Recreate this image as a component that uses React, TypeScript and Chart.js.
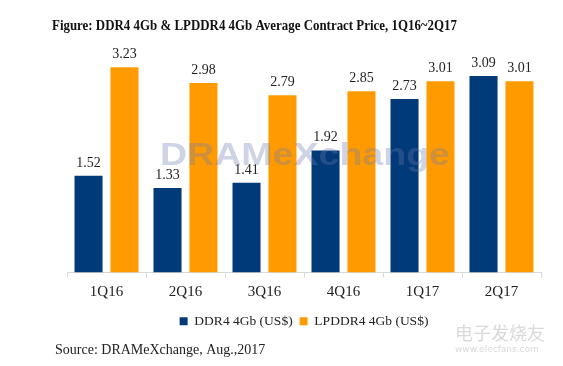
import React, { useEffect, useRef } from "react";
import { Chart, registerables } from "chart.js";

Chart.register(...registerables);

const categories = ["1Q16", "2Q16", "3Q16", "4Q16", "1Q17", "2Q17"];
const ddr4 = [1.52, 1.33, 1.41, 1.92, 2.73, 3.09];
const lpddr4 = [3.23, 2.98, 2.79, 2.85, 3.01, 3.01];
const seriesNames = ["DDR4 4Gb (US$)", "LPDDR4 4Gb (US$)"];
const seriesColors = ["#003a78", "#ff9b00"];
const titleText = "Figure: DDR4 4Gb & LPDDR4 4Gb Average Contract Price, 1Q16~2Q17";
const sourceText = "Source: DRAMeXchange, Aug.,2017";
const watermarkText = "DRAMeXchange";

const SERIF = "'Liberation Serif', 'DejaVu Serif', serif";

const decorPlugin = {
  id: "decor",
  afterDatasetsDraw(chart: any) {
    const ctx = chart.ctx;
    ctx.save();
    // value labels
    ctx.font = `14px ${SERIF}`;
    ctx.fillStyle = "#222";
    ctx.textAlign = "center";
    ctx.textBaseline = "bottom";
    chart.data.datasets.forEach((ds: any, i: number) => {
      const meta = chart.getDatasetMeta(i);
      meta.data.forEach((el: any, j: number) => {
        ctx.fillText(Number(ds.data[j]).toFixed(2), el.x, el.y - 6);
      });
    });
    // watermark
    ctx.font = "bold 32px 'Liberation Sans', Arial, sans-serif";
    const w = ctx.measureText(watermarkText).width;
    const target = 290;
    ctx.translate(160, 165);
    ctx.scale(target / w, 1);
    ctx.textAlign = "left";
    ctx.textBaseline = "alphabetic";
    ctx.fillStyle = "rgba(105,120,175,0.33)";
    ctx.fillText(watermarkText, 0, 0);
    ctx.restore();
  },
  afterDraw(chart: any) {
    const ctx = chart.ctx;
    ctx.save();
    ctx.fillStyle = "#111";
    ctx.textBaseline = "middle";
    ctx.textAlign = "left";
    ctx.font = `bold 14px ${SERIF}`;
    const tw = ctx.measureText(titleText).width;
    ctx.save();
    ctx.translate(52, 26);
    ctx.scale(405 / tw, 1);
    ctx.fillText(titleText, 0, 0);
    ctx.restore();
    ctx.font = `14px ${SERIF}`;
    ctx.fillStyle = "#222";
    ctx.fillText(sourceText, 55, 350);
    // faint site watermark
    ctx.fillStyle = "rgba(170,170,170,0.45)";
    ctx.font = "18px 'Noto Sans CJK SC', sans-serif";
    ctx.fillText("电子发烧友", 455, 333);
    ctx.font = "9px 'DejaVu Sans', sans-serif";
    ctx.fillText("www.elecfans.com", 455, 350);
    ctx.restore();
  },
};

export default function App() {
  const ref = useRef<HTMLCanvasElement | null>(null);
  useEffect(() => {
    document.body.style.margin = "0";
    const canvas = ref.current!;
    const chart = new Chart(canvas, {
      type: "bar",
      data: {
        labels: categories,
        datasets: [
          {
            label: seriesNames[0],
            data: ddr4,
            backgroundColor: seriesColors[0],
            borderWidth: 0,
            categoryPercentage: 0.91,
            barPercentage: 0.78,
          },
          {
            label: seriesNames[1],
            data: lpddr4,
            backgroundColor: seriesColors[1],
            borderWidth: 0,
            categoryPercentage: 0.91,
            barPercentage: 0.78,
          },
        ],
      },
      options: {
        responsive: false,
        animation: false,
        layout: { padding: { left: 67, right: 22, top: 50, bottom: 28 } },
        scales: {
          x: {
            offset: true,
            grid: {
              display: true,
              drawOnChartArea: false,
              tickLength: 5,
              color: "#d9d9d9",
              offset: true,
            },
            border: { display: true, color: "#d9d9d9" },
            ticks: {
              font: { family: SERIF, size: 15 },
              color: "#222",
              padding: 6,
            },
          },
          y: {
            display: false,
            min: 0,
            max: 3.5,
          },
        },
        plugins: {
          legend: {
            position: "bottom",
            fullSize: false,
            labels: {
              boxWidth: 8,
              boxHeight: 8,
              padding: 7,
              color: "#222",
              font: { family: SERIF, size: 13.5 },
            },
          },
          title: { display: false },
          tooltip: { enabled: false },
        },
      },
      plugins: [decorPlugin],
    });
    return () => chart.destroy();
  }, []);
  return (
    <div style={{ width: 563, height: 366 }}>
      <canvas ref={ref} width={563} height={366} style={{ display: "block" }} />
    </div>
  );
}
